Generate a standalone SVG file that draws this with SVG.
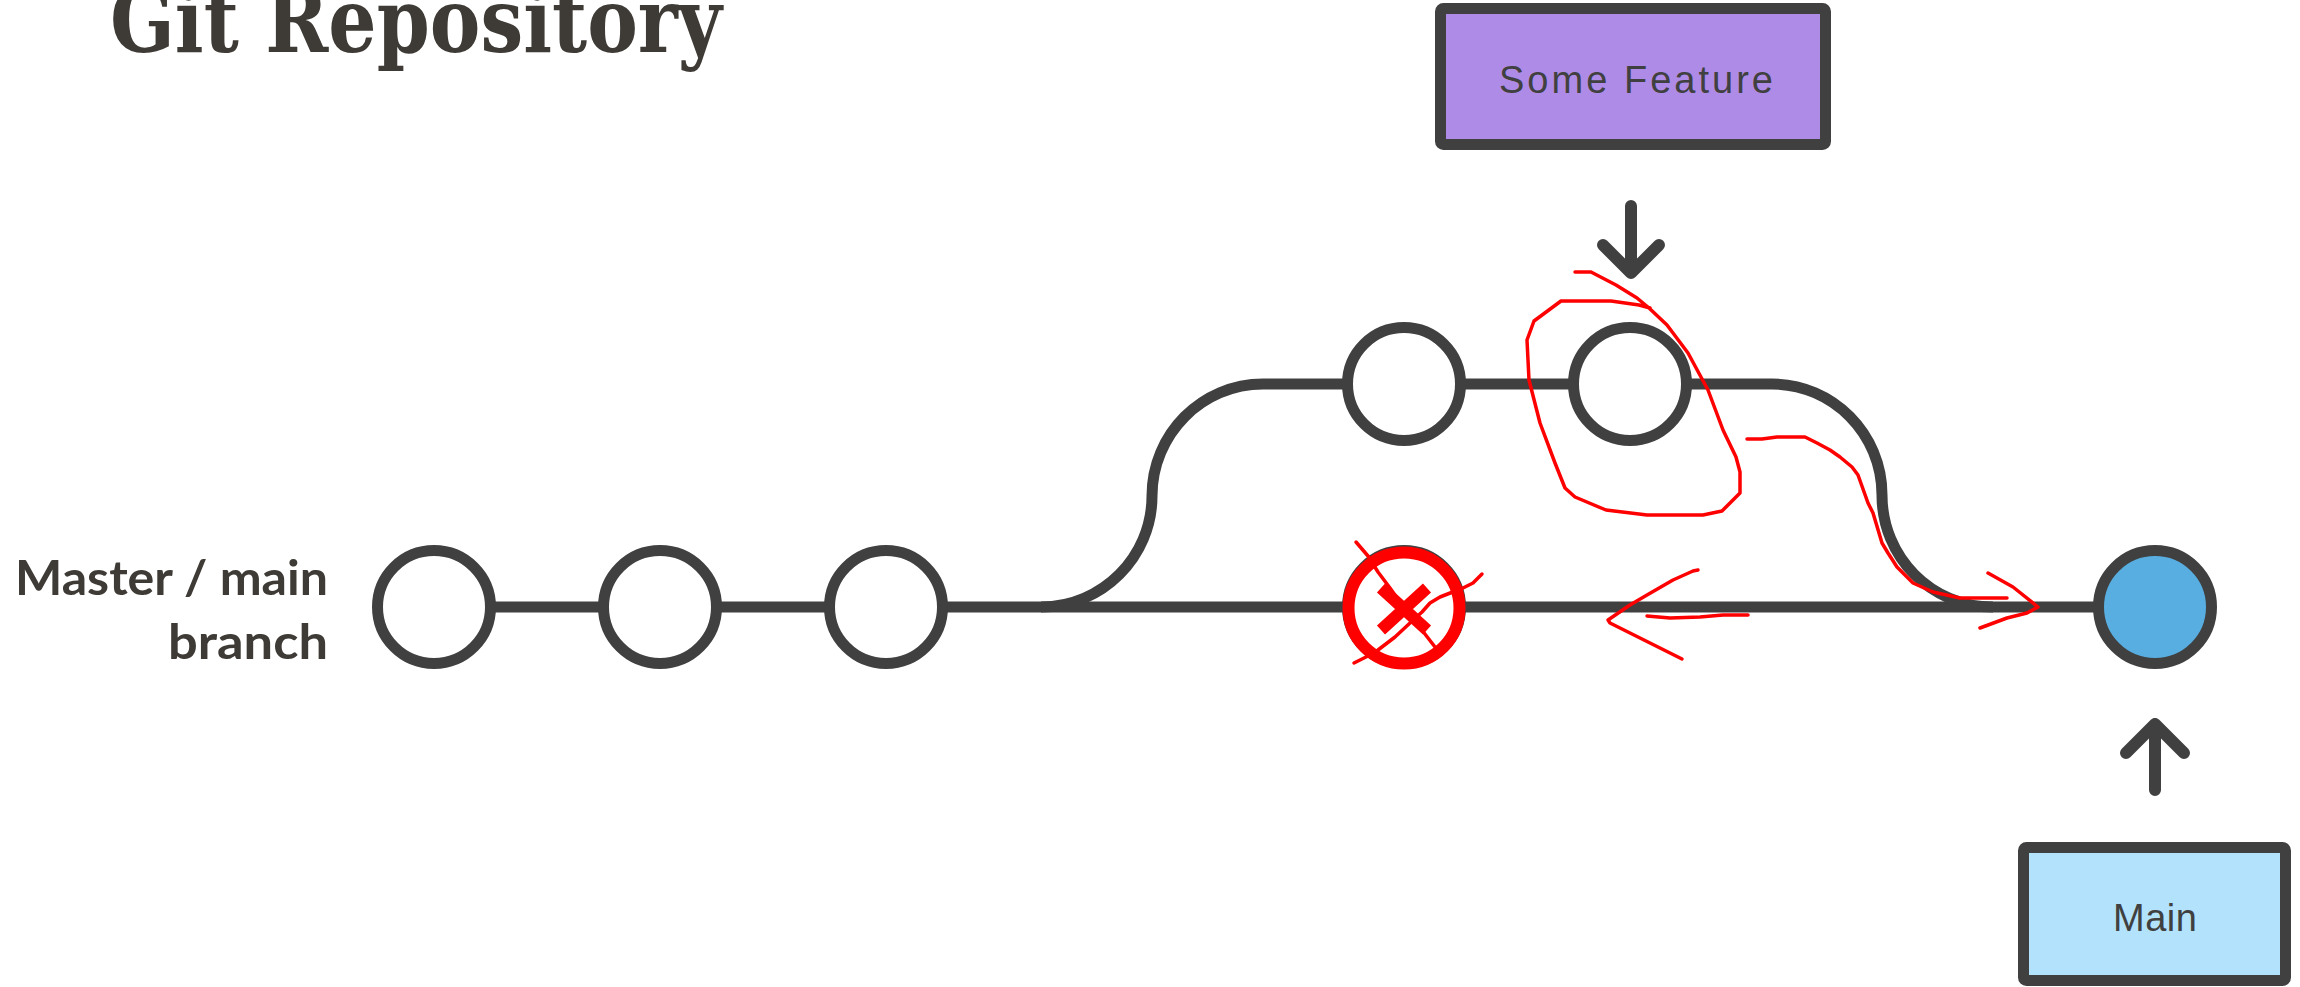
<svg xmlns="http://www.w3.org/2000/svg" width="2300" height="987" viewBox="0 0 2300 987">
<style>
.line{fill:none;stroke:#404040;stroke-width:11}
.commit{fill:#ffffff;stroke:#404040;stroke-width:11}
.head{fill:#58AEE0;stroke:#404040;stroke-width:11}
.arrow{fill:none;stroke:#404040;stroke-width:12;stroke-linecap:round;stroke-linejoin:round}
.box{stroke:#404040;stroke-width:11}
.boxtext{font-family:"Liberation Sans",Arial,sans-serif;font-size:38px;fill:#404040;text-anchor:middle}
.label{font-family:Lato,"Open Sans",sans-serif;font-weight:bold;font-size:48px;fill:#3E3A35;text-anchor:end}
.title{font-family:"DejaVu Serif",serif;font-weight:bold;font-size:90px;fill:#3E3A35}
.ink{fill:none;stroke:#FF0000;stroke-width:3.5;stroke-linecap:round;stroke-linejoin:round}
</style>
<rect width="2300" height="987" fill="#ffffff"/>
<g id="title"><text class="title" x="110" y="52" textLength="612" lengthAdjust="spacingAndGlyphs">Git Repository</text></g>
<g id="branch-label">
<text class="label" x="328" y="595" textLength="313" lengthAdjust="spacingAndGlyphs">Master / main</text>
<text class="label" x="328" y="659" textLength="160" lengthAdjust="spacingAndGlyphs">branch</text>
</g>
<g id="connectors">
<line class="line" x1="434" y1="607" x2="2155" y2="607"/>
<path class="line" d="M1041,607 C1102,607 1152,557 1152,496 C1152,434 1202,384 1263,384 L1772,384 C1833,384 1882,434 1882,495 C1882,557 1931,607 1993,607"/>
<path class="arrow" d="M1631,206 L1631,273 M1603,245 L1631,273 L1659,245"/>
<path class="arrow" d="M2155,790 L2155,724 M2126,753 L2155,724 L2184,753"/>
</g>
<g id="commit1"><circle class="commit" cx="434" cy="607" r="56.5"/></g>
<g id="commit2"><circle class="commit" cx="660" cy="607" r="56.5"/></g>
<g id="commit3"><circle class="commit" cx="886" cy="607" r="56.5"/></g>
<g id="commit4"><circle class="commit" cx="1404" cy="607" r="56.5"/></g>
<g id="feature1"><circle class="commit" cx="1404" cy="384" r="56.5"/></g>
<g id="feature2"><circle class="commit" cx="1630" cy="384" r="56.5"/></g>
<g id="main-commit"><circle class="head" cx="2155" cy="607" r="56.5"/></g>
<g id="some-feature">
<rect class="box" x="1440.5" y="8.5" width="385" height="136" rx="3" fill="#AF8BE8"/>
<text class="boxtext" x="1636" y="93" textLength="274" lengthAdjust="spacing">Some Feature</text>
</g>
<g id="main">
<rect class="box" x="2023.5" y="847.5" width="262" height="133" rx="3" fill="#B3E3FC"/>
<text class="boxtext" x="2155" y="931" textLength="84" lengthAdjust="spacing">Main</text>
</g>
<g id="annotations">
<circle cx="1404" cy="608" r="55.5" fill="#ffffff" stroke="#FF0000" stroke-width="12"/>
<path d="M1381,588 L1427,630 M1381,630 L1427,588" stroke="#FF0000" stroke-width="12" fill="none"/>
<polyline class="ink" points="1356,542 1368,556 1378,572 1390,588 1404,608 1418,625 1435,647"/>
<polyline class="ink" points="1354,663 1366,657 1378,650 1395,637 1410,623 1422,612 1430,603 1440,597 1463,588 1473,583 1482,574"/>
<polyline class="ink" points="1698,570 1693,571 1673,580 1647,595 1630,605 1608,620 1610,623 1630,633 1650,643 1682,659"/>
<polyline class="ink" points="1647,616 1670,618 1700,617 1723,615 1748,615"/>
<polyline class="ink" points="1575,272 1591,272 1616,285 1637,298 1649,308 1667,325 1688,353 1708,390 1723,430 1736,457 1740,472 1740,493 1722,511 1703,515 1647,515 1606,510 1575,497 1565,488 1555,463 1540,423 1529,380 1527,340 1534,321 1561,301 1611,301 1639,305 1650,308"/>
<polyline class="ink" points="1747,439 1762,439 1777,437 1805,437 1817,443 1830,450 1840,457 1852,467 1858,475 1868,503 1873,513 1882,543 1888,553 1897,567 1913,583 1933,592 1960,598 2007,598"/>
<polyline class="ink" points="1988,573 2013,587 2038,607 2027,613 2007,618 1980,628"/>
</g>
</svg>
